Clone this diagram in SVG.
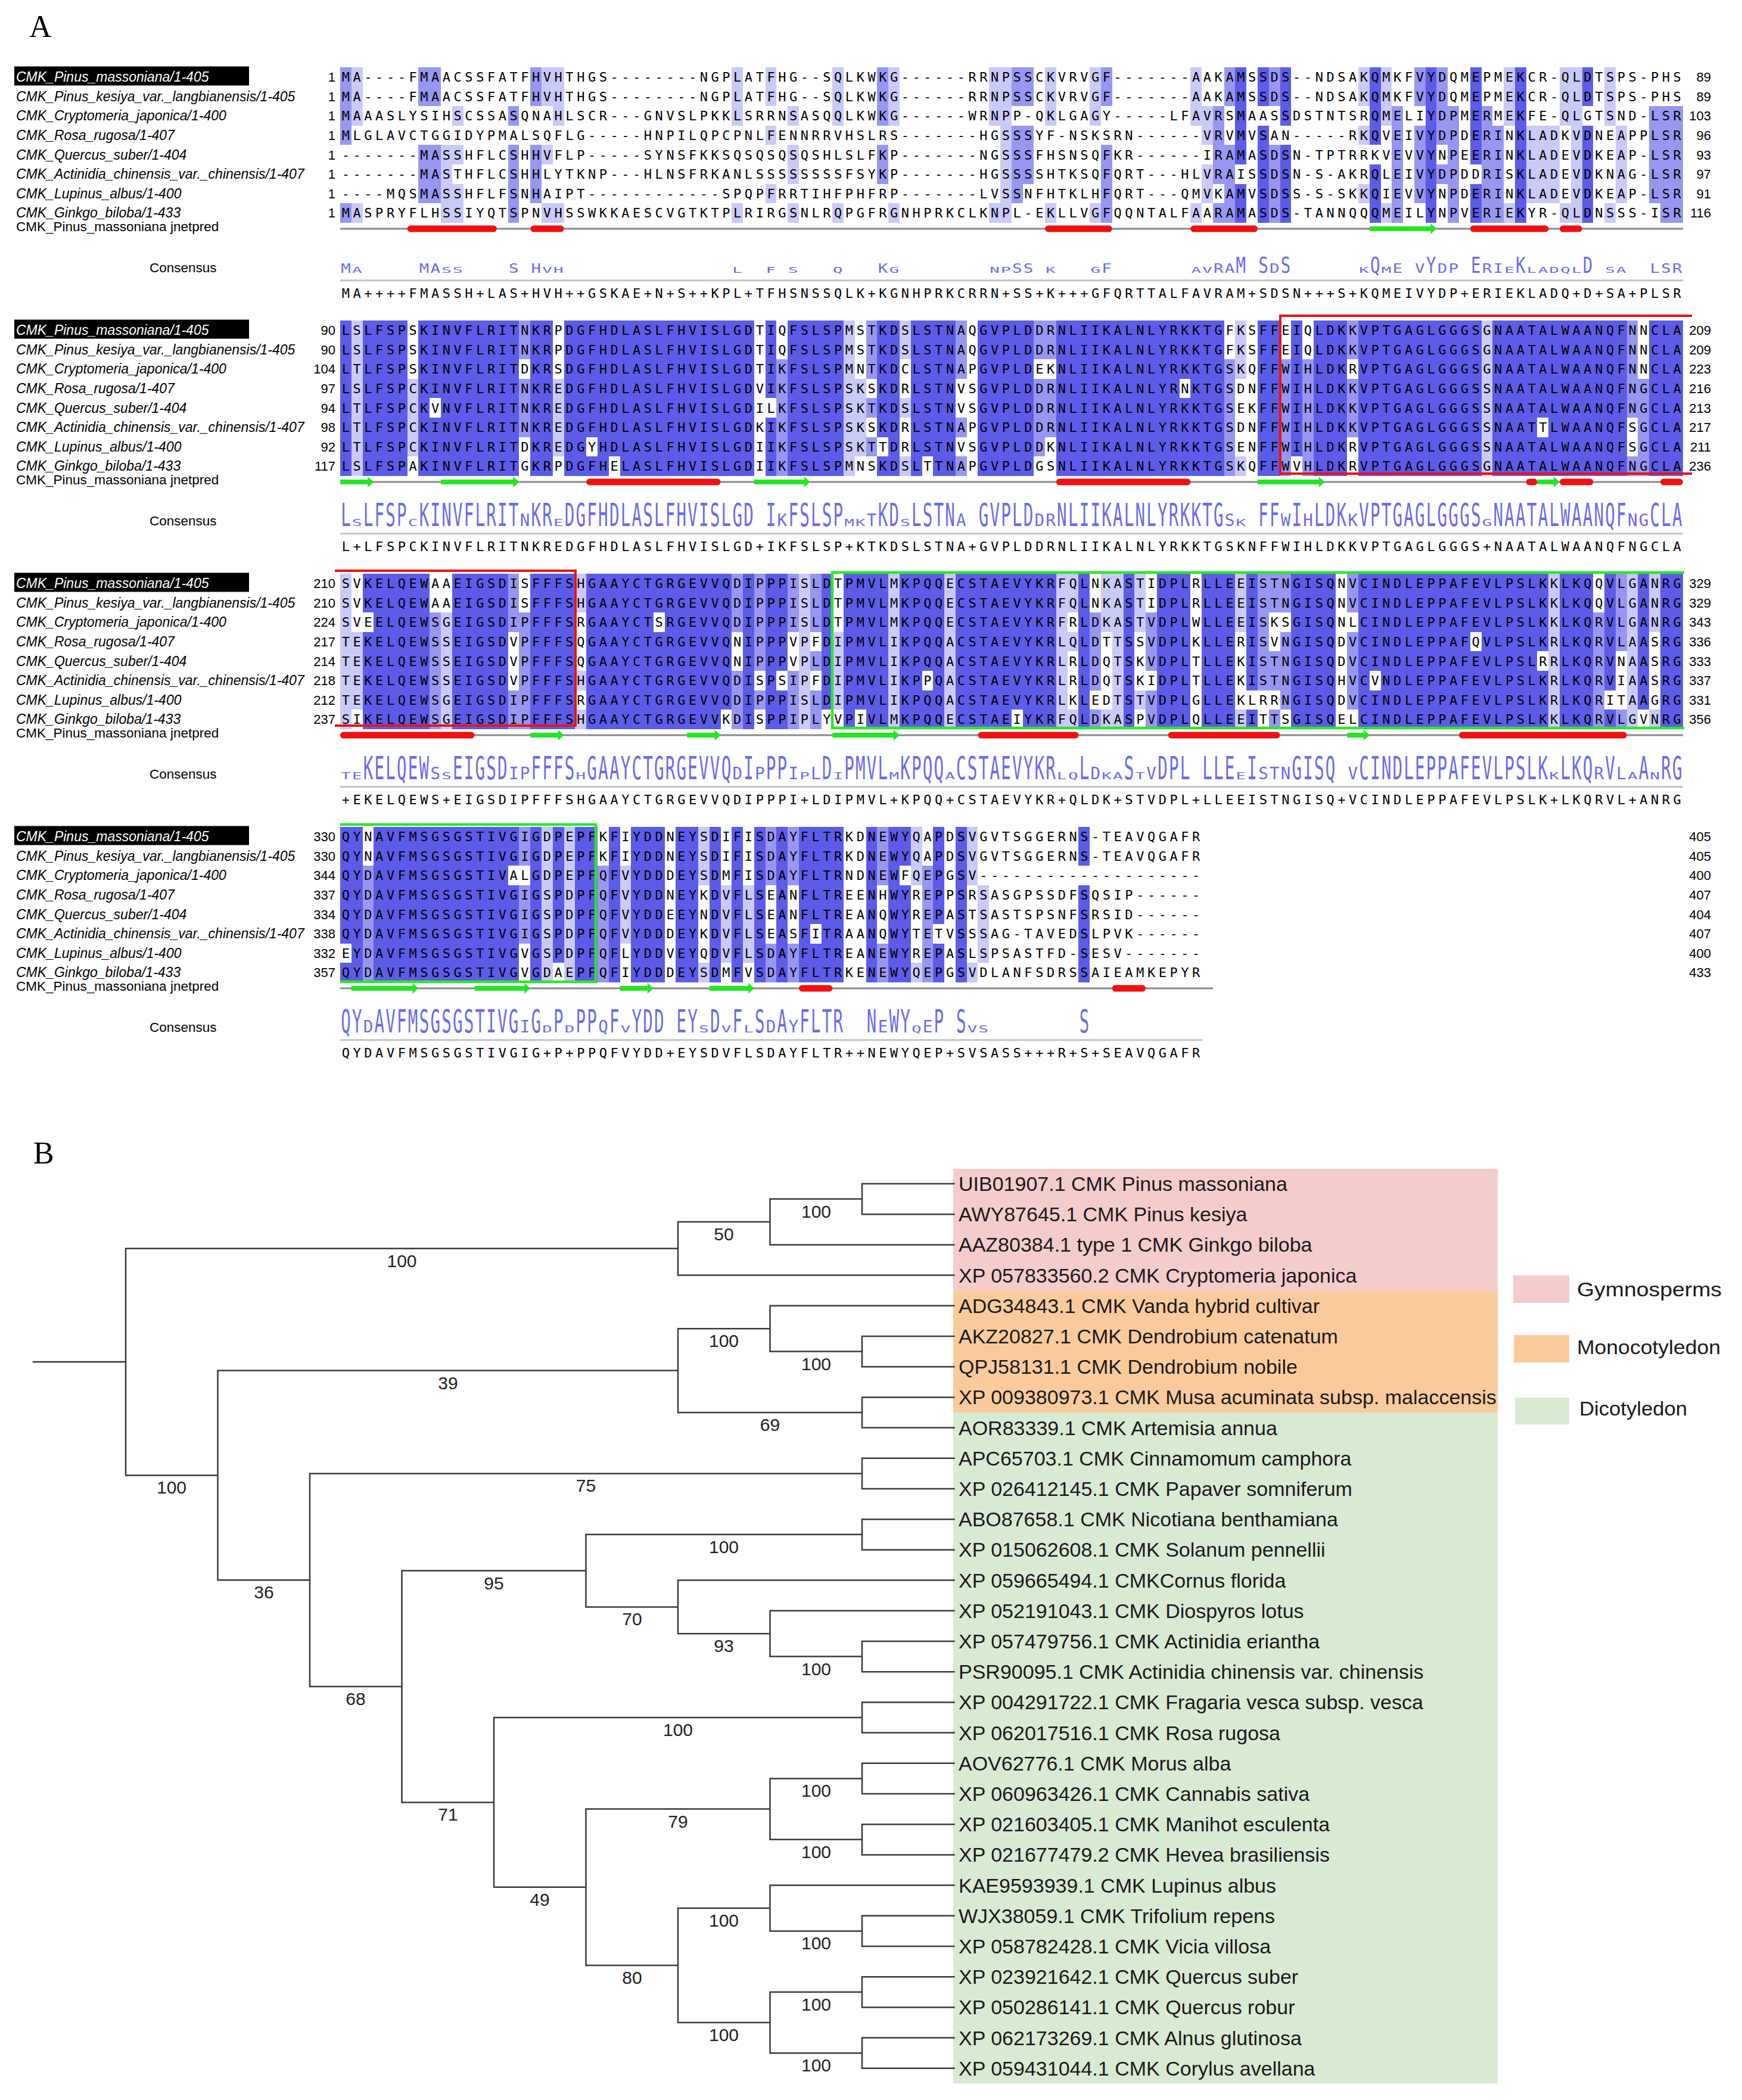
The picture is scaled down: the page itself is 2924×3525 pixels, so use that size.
<svg xmlns="http://www.w3.org/2000/svg" width="2924" height="3525" viewBox="0 0 2924 3525">
<style>
.seq{font-family:"DejaVu Sans Mono",monospace;font-size:22px;letter-spacing:5.535px;fill:#000}
.lg{font-family:"DejaVu Sans Mono",monospace;font-size:22px;letter-spacing:1.779px;fill:#6b6bea;white-space:pre}
.nm{font-family:"Liberation Sans",Arial,sans-serif;font-size:23px;font-style:italic;fill:#000}
.lb{font-family:"Liberation Sans",Arial,sans-serif;font-size:22.5px;fill:#000}
.nl{font-family:"Liberation Sans",Arial,sans-serif;font-size:22px;text-anchor:end;fill:#000}
.d{fill:#5c5ce8}.m{fill:#9797f2}.l{fill:#cacaf8}.w{fill:#fff}
.gl{stroke:#8a8a8a;stroke-width:3}
.cl{stroke:#c4c4c4;stroke-width:3}
.hx{fill:#f01010}
.st{fill:#22e622}
.rb{fill:none;stroke:#ee1111;stroke-width:4}
.gb{fill:none;stroke:#2be82b;stroke-width:4.5}
.br{fill:none;stroke:#3a3a3a;stroke-width:2.5;stroke-linecap:square}
.bs{font-family:"Liberation Sans",Arial,sans-serif;font-size:30px;text-anchor:middle;fill:#222}
.lf{font-family:"Liberation Sans",Arial,sans-serif;font-size:34px;fill:#1a1a1a}
.lgd{font-family:"Liberation Sans",Arial,sans-serif;font-size:33px;fill:#1a1a1a}
.pl{font-family:"Liberation Serif",serif;font-size:52px;fill:#000}
</style>
<defs>
<g id="labels">
<rect x="24" y="111.5" width="394" height="32" fill="#000"/>
<text class="nm" x="27" y="137.2" style="fill:#fff">CMK_Pinus_massoniana/1-405</text>
<text class="nm" x="27" y="169.8">CMK_Pinus_kesiya_var._langbianensis/1-405</text>
<text class="nm" x="27" y="202.4">CMK_Cryptomeria_japonica/1-400</text>
<text class="nm" x="27" y="235">CMK_Rosa_rugosa/1-407</text>
<text class="nm" x="27" y="267.6">CMK_Quercus_suber/1-404</text>
<text class="nm" x="27" y="300.2">CMK_Actinidia_chinensis_var._chinensis/1-407</text>
<text class="nm" x="27" y="332.8">CMK_Lupinus_albus/1-400</text>
<text class="nm" x="27" y="365.4">CMK_Ginkgo_biloba/1-433</text>
<text class="lb" x="27" y="388">CMK_Pinus_massoniana jnetpred</text>
<text class="lb" x="251" y="457">Consensus</text>
</g>
</defs>
<rect width="2924" height="3525" fill="#fff"/>
<text class="pl" x="49" y="62">A</text>

<g id="block1">
<g transform="translate(571,113) scale(18.78,32.6)" shape-rendering="crispEdges">
<path class="m" d="M0 0h1v4h-1zM0 7h1v1h-1zM7 0h2v2h-2zM7 4h2v3h-2zM15 2h1v1h-1zM15 4h1v4h-1zM17 0h1v2h-1zM17 4h1v3h-1zM48 0h1v3h-1zM48 4h1v2h-1zM60 0h2v2h-2zM60 3h2v3h-2zM60 6h1v1h-1zM68 0h1v2h-1zM68 4h1v4h-1zM78 2h1v4h-1zM78 7h1v1h-1zM79 0h1v2h-1zM79 4h1v4h-1zM83 0h1v2h-1zM83 4h1v4h-1zM94 2h1v6h-1zM96 0h1v2h-1zM96 3h1v4h-1zM98 0h1v4h-1zM98 5h1v1h-1zM99 2h1v6h-1zM102 2h1v1h-1zM102 3h2v5h-2zM117 2h3v5h-3zM118 7h2v1h-2z"/>
<path class="l" d="M1 0h1v3h-1zM1 7h1v1h-1zM9 4h1v4h-1zM10 2h1v1h-1zM10 4h1v1h-1zM10 6h1v2h-1zM18 0h2v2h-2zM19 2h1v1h-1zM18 4h1v1h-1zM18 7h2v1h-2zM35 0h1v3h-1zM35 7h1v1h-1zM38 0h1v2h-1zM38 3h1v1h-1zM38 6h1v1h-1zM40 2h1v1h-1zM40 4h1v2h-1zM40 7h1v1h-1zM44 0h1v3h-1zM44 7h1v1h-1zM49 0h1v3h-1zM49 7h1v1h-1zM58 0h1v3h-1zM58 7h1v1h-1zM59 0h1v8h-1zM63 0h1v3h-1zM63 7h1v1h-1zM67 0h1v3h-1zM67 7h1v1h-1zM76 0h1v3h-1zM76 7h1v1h-1zM77 2h1v2h-1zM77 5h1v2h-1zM91 0h1v2h-1zM91 3h1v1h-1zM91 6h1v1h-1zM93 0h1v3h-1zM93 7h1v1h-1zM104 0h1v3h-1zM104 7h1v1h-1zM106 3h3v4h-3zM109 0h2v3h-2zM110 3h1v4h-1zM109 7h2v1h-2zM113 0h1v3h-1zM113 7h1v1h-1zM114 3h1v4h-1z"/>
<path class="d" d="M80 0h1v5h-1zM80 6h1v2h-1zM82 0h1v2h-1zM82 3h1v5h-1zM84 0h1v3h-1zM84 4h1v4h-1zM92 0h1v4h-1zM92 5h1v3h-1zM97 0h1v8h-1zM101 0h1v5h-1zM101 6h1v2h-1zM105 0h1v8h-1zM111 0h1v2h-1zM111 3h1v5h-1z"/>
</g>
<use href="#labels"/>
<text class="nl" x="563" y="137.2">1</text><text class="nl" x="563" y="169.8">1</text><text class="nl" x="563" y="202.4">1</text><text class="nl" x="563" y="235">1</text><text class="nl" x="563" y="267.6">1</text><text class="nl" x="563" y="300.2">1</text><text class="nl" x="563" y="332.8">1</text><text class="nl" x="563" y="365.4">1</text>
<text class="nl" x="2872" y="137.2">89</text><text class="nl" x="2872" y="169.8">89</text><text class="nl" x="2872" y="202.4">103</text><text class="nl" x="2872" y="235">96</text><text class="nl" x="2872" y="267.6">93</text><text class="nl" x="2872" y="300.2">97</text><text class="nl" x="2872" y="332.8">91</text><text class="nl" x="2872" y="365.4">116</text>
<text class="seq" x="573.77" y="137.2">MA----FMAACSSFATFHVHTHGS--------NGPLATFHG--SQLKWKG------RRNPSSCKVRVGF-------AAKAMSSDS--NDSAKQMKFVYDQMEPMEKCR-QLDTSPS-PHS</text>
<text class="seq" x="573.77" y="169.8">MA----FMAACSSFATFHVHTHGS--------NGPLATFHG--SQLKWKG------RRNPSSCKVRVGF-------AAKAMSSDS--NDSAKQMKFVYDQMEPMEKCR-QLDTSPS-PHS</text>
<text class="seq" x="573.77" y="202.4">MAAASLYSIHSCSSASQNAHLSCR---GNVSLPKKLSRRNSASQQLKWKG------WRNPP-QKLGAGY-----LFAVRSMAASSDSTNTSRQMELIYDPMERMEKFE-QLGTSND-LSR</text>
<text class="seq" x="573.77" y="235">MLGLAVCTGGIDYPMALSQFLG-----HNPILQPCPNLFENNRRVHSLRS-------HGSSSYF-NSKSRN------VRVMVSAN-----RKQVEIVYDPDERINKLADKVDNEAPPLSR</text>
<text class="seq" x="573.77" y="267.6">-------MASSHFLCSHHVFLP-----SYNSFKKSQSQSQSQSHLSLFKP-------NGSSSFHSNSQFKR------IRAMASDSN-TPTRRKVEVVYNPEERINKLADEVDKEAP-LSR</text>
<text class="seq" x="573.77" y="300.2">-------MASTHFLCSHHLYTKNP---HLNSFRKANLSSSSSSSSFSYKP-------HGSSSSHTKSQFQRT---HLVRAISSDSN-S-AKRQLEIVYDPDDRISKLADEVDKNAG-LSR</text>
<text class="seq" x="573.77" y="332.8">----MQSMASSHFLFSNHAIPT------------SPQPFRRTIHFPHFRP-------LVSSNFHTKLHFQRT---QMVKAMVSDSS-S-SKKQIEVVYNPDERINKLADEVDKEAP-LSR</text>
<text class="seq" x="573.77" y="365.4">MASPRYFLHSSIYQTSPNVHSSWKKAESCVGTKTPLRIRGSNLRQPGFRGNHPRKCLKNPL-EKLLVGFQQNTALFAARAMASDS-TANNQQQMEILYNPVERIEKYR-QLDNSSS-ISR</text>
<line class="gl" x1="571" y1="384" x2="2825" y2="384"/>
<rect class="hx" x="683.7" y="378.5" width="150.2" height="11" rx="5.5"/>
<rect class="hx" x="890.3" y="378.5" width="56.3" height="11" rx="5.5"/>
<rect class="hx" x="1754.1" y="378.5" width="112.7" height="11" rx="5.5"/>
<rect class="hx" x="1998.3" y="378.5" width="112.7" height="11" rx="5.5"/>
<path class="st" d="M2298.8 380H2401.5V375L2411.5 384L2401.5 393V388H2298.8Z"/>
<rect class="hx" x="2467.8" y="378.5" width="131.5" height="11" rx="5.5"/>
<rect class="hx" x="2618" y="378.5" width="37.6" height="11" rx="5.5"/>
<g transform="translate(572.2,458) scale(1.25,1.7)"><text class="lg" x="1201.92" xml:space="preserve">M S</text><text class="lg" x="1262.02">S</text><text class="lg" x="1382.21">Q</text><text class="lg" x="1457.33">Y</text><text class="lg" x="1517.42">E</text><text class="lg" x="1577.52">K</text><text class="lg" x="1667.66">D</text></g>
<g transform="translate(572.2,458) scale(1.25,1)"><text class="lg" x="0">M</text><text class="lg" x="105.17">MA</text><text class="lg" x="225.36" xml:space="preserve">S H</text><text class="lg" x="721.15">K</text><text class="lg" x="901.44">SS</text><text class="lg" x="1021.63">F</text><text class="lg" x="1171.87">RA</text><text class="lg" x="1246.99">D</text><text class="lg" x="1412.26" xml:space="preserve">E V</text><text class="lg" x="1472.35">DP</text><text class="lg" x="1532.45">RI</text><text class="lg" x="1757.81">LSR</text></g>
<g transform="translate(572.2,458) scale(1.25,0.6)"><text class="lg" x="15.02">A</text><text class="lg" x="135.22">SS</text><text class="lg" x="270.43" xml:space="preserve">VH               L  F S   Q</text><text class="lg" x="736.18" xml:space="preserve">G        NP</text><text class="lg" x="946.51" xml:space="preserve">K   G</text><text class="lg" x="1141.82">AV</text><text class="lg" x="1367.18">K</text><text class="lg" x="1397.23">M</text><text class="lg" x="1562.5">E</text><text class="lg" x="1592.54">LADQL</text><text class="lg" x="1697.71">SA</text></g>
<line class="cl" x1="571" y1="470.7" x2="2825" y2="470.7"/>
<text class="seq" x="573.77" y="499.6">MA++++FMASSH+LAS+HVH++GSKAE+N+S++KPL+TFHSNSSQLK+KGNHPRKCRRN+SS+K+++GFQRTTALFAVRAM+SDSN+++S+KQMEIVYDP+ERIEKLADQ+D+SA+PLSR</text>
</g>

<g id="block2" transform="translate(0,425)">
<g transform="translate(571,113) scale(18.78,32.6)" shape-rendering="crispEdges">
<path class="d" d="M0 0h120v8h-120z"/>
<path class="w" d="M6 0h1v3h-1zM6 7h1v1h-1zM8 4h1v1h-1zM16 2h1v1h-1zM16 6h1v2h-1zM19 0h1v3h-1zM19 7h1v1h-1zM22 6h1v1h-1zM24 7h1v1h-1zM37 0h1v8h-1zM38 4h1v1h-1zM39 0h1v2h-1zM46 0h1v3h-1zM46 7h1v1h-1zM47 3h1v1h-1zM47 5h1v1h-1zM47 7h1v1h-1zM48 6h1v1h-1zM50 2h1v2h-1zM50 5h1v2h-1zM52 7h1v1h-1zM55 3h1v2h-1zM55 6h1v1h-1zM56 0h1v8h-1zM62 2h2v1h-2zM63 6h1v2h-1zM62 7h1v1h-1zM75 3h1v1h-1zM79 0h1v2h-1zM80 3h1v4h-1zM81 0h1v8h-1zM84 0h1v2h-1zM85 7h1v1h-1zM86 0h1v2h-1zM90 2h1v1h-1zM90 6h1v2h-1zM107 5h1v1h-1zM115 5h1v2h-1zM116 0h1v3h-1z"/>
<path class="m" d="M16 0h1v2h-1zM16 3h1v3h-1zM39 2h1v6h-1zM47 0h1v3h-1zM47 4h1v1h-1zM47 6h1v1h-1zM55 0h1v3h-1zM55 5h1v1h-1zM55 7h1v1h-1zM62 0h2v2h-2zM62 3h2v3h-2zM62 6h1v1h-1zM79 2h1v6h-1zM84 2h1v6h-1zM86 2h1v6h-1zM90 0h1v2h-1zM90 3h1v3h-1zM115 0h1v5h-1zM115 7h1v1h-1zM116 3h1v5h-1z"/>
<path class="l" d="M1 0h1v8h-1zM6 3h1v4h-1zM19 3h1v4h-1zM45 0h1v8h-1zM46 3h1v4h-1zM50 0h1v2h-1zM50 4h1v1h-1zM50 7h1v1h-1zM80 0h1v3h-1zM80 7h1v1h-1zM102 0h1v8h-1z"/>
</g>
<use href="#labels"/>
<text class="nl" x="563" y="137.2">90</text><text class="nl" x="563" y="169.8">90</text><text class="nl" x="563" y="202.4">104</text><text class="nl" x="563" y="235">97</text><text class="nl" x="563" y="267.6">94</text><text class="nl" x="563" y="300.2">98</text><text class="nl" x="563" y="332.8">92</text><text class="nl" x="563" y="365.4">117</text>
<text class="nl" x="2872" y="137.2">209</text><text class="nl" x="2872" y="169.8">209</text><text class="nl" x="2872" y="202.4">223</text><text class="nl" x="2872" y="235">216</text><text class="nl" x="2872" y="267.6">213</text><text class="nl" x="2872" y="300.2">217</text><text class="nl" x="2872" y="332.8">211</text><text class="nl" x="2872" y="365.4">236</text>
<text class="seq" x="573.77" y="137.2">LSLFSPSKINVFLRITNKRPDGFHDLASLFHVISLGDTIQFSLSPMSTKDSLSTNAQGVPLDDRNLIIKALNLYRKKTGFKSFFEIQLDKKVPTGAGLGGGSGNAATALWAANQFNNCLA</text>
<text class="seq" x="573.77" y="169.8">LSLFSPSKINVFLRITNKRPDGFHDLASLFHVISLGDTIQFSLSPMSTKDSLSTNAQGVPLDDRNLIIKALNLYRKKTGFKSFFEIQLDKKVPTGAGLGGGSGNAATALWAANQFNNCLA</text>
<text class="seq" x="573.77" y="202.4">LTLFSPSKINVFLRITDKRSDGFHDLASLFHVISLGDTIKFSLSPMNTKDCLSTNAPGVPLDEKNLIIKALNLYRKKTGSKQFFWIHLDKRVPTGAGLGGGSGNAATALWAANQFNNCLA</text>
<text class="seq" x="573.77" y="235">LSLFSPCKINVFLRITNKREDGFHDLASLFHVISLGDVIKFSLSPSKSKDRLSTNVSGVPLDDRNLIIKALNLYRNKTGSDNFFWIHLDKKVPTGAGLGGGSSNAATALWAANQFNGCLA</text>
<text class="seq" x="573.77" y="267.6">LTLFSPCKVNVFLRITNKREDGFHDLASLFHVISLGDILKFSLSPSKTKDSLSTNVSGVPLDDRNLIIKALNLYRKKTGSEKFFWIHLDKKVPTGAGLGGGSSNAATALWAANQFNGCLA</text>
<text class="seq" x="573.77" y="300.2">LTLFSPCKINVFLRITNKREDGFHDLASLFHVISLGDKIKFSLSPSKSKDRLSTNAPGVPLDDRNLIIKALNLYRKKTGSDNFFWIHLDKKVPTGAGLGGGSSNAATTLWAANQFSGCLA</text>
<text class="seq" x="573.77" y="332.8">LTLFSPCKINVFLRITDKREDGYHDLASLFHVISLGDIIKFSLSPSKTTDRLSTNVSGVPLDDKNLIIKALNLYRKKTGSENFFWIHLDKRVPTGAGLGGGSSNAATALWAANQFSGCLA</text>
<text class="seq" x="573.77" y="365.4">LSLFSPAKINVFLRITGKRPDGFHELASLFHVISLGDIIKFSLSPMNSKDSLTTNAPGVPLDGSNLIIKALNLYRKKTGSKQFFWVHLDKRVPTGAGLGGGSGNAATALWAANQFNGCLA</text>
<line class="gl" x1="571" y1="384" x2="2825" y2="384"/>
<path class="st" d="M571 380H617.3V375L627.3 384L617.3 393V388H571Z"/>
<path class="st" d="M740 380H861.5V375L871.5 384L861.5 393V388H740Z"/>
<rect class="hx" x="984.2" y="378.5" width="225.3" height="11" rx="5.5"/>
<path class="st" d="M1265.9 380H1349.8V375L1359.8 384L1349.8 393V388H1265.9Z"/>
<rect class="hx" x="1772.9" y="378.5" width="225.4" height="11" rx="5.5"/>
<path class="st" d="M2111 380H2213.7V375L2223.7 384L2213.7 393V388H2111Z"/>
<rect class="hx" x="2561.7" y="378.5" width="18.8" height="11" rx="5.5"/>
<path class="st" d="M2580.5 380H2608V375L2618 384L2608 393V388H2580.5Z"/>
<rect class="hx" x="2618" y="378.5" width="56.4" height="11" rx="5.5"/>
<rect class="hx" x="2787" y="378.5" width="37.6" height="11" rx="5.5"/>
<g transform="translate(572.2,458) scale(1.25,2.4)"><text class="lg" x="0">L</text><text class="lg" x="30.05">LFSP</text><text class="lg" x="105.17">KINVFLRIT</text><text class="lg" x="255.41">KR</text><text class="lg" x="300.48" xml:space="preserve">DGFHDLASLFHVISLGD I</text><text class="lg" x="600.96">FSLSP</text><text class="lg" x="721.15">KD</text><text class="lg" x="766.22">LSTN</text><text class="lg" x="856.37">GVPLD</text><text class="lg" x="961.54">NLIIKALNLYRKKTG</text><text class="lg" x="1231.97">FF</text><text class="lg" x="1277.04">I</text><text class="lg" x="1307.09">LDK</text><text class="lg" x="1367.18">VPTGAGLGGGS</text><text class="lg" x="1547.47">NAATALWAANQF</text><text class="lg" x="1757.81">CLA</text></g>
<g transform="translate(572.2,458) scale(1.25,1.3)"><text class="lg" x="240.38">N</text><text class="lg" x="585.94">K</text><text class="lg" x="706.13">T</text><text class="lg" x="826.32">A</text><text class="lg" x="931.49">DR</text><text class="lg" x="1186.9">S</text><text class="lg" x="1262.02">W</text><text class="lg" x="1292.06">H</text><text class="lg" x="1352.16">K</text><text class="lg" x="1727.76">NG</text></g>
<g transform="translate(572.2,458) scale(1.25,0.7)"><text class="lg" x="15.02">S</text><text class="lg" x="90.14">C</text><text class="lg" x="285.46">E</text><text class="lg" x="676.08">MK</text><text class="lg" x="751.2">S</text><text class="lg" x="1201.92">K</text><text class="lg" x="1532.45">G</text></g>
<line class="cl" x1="571" y1="470.7" x2="2825" y2="470.7"/>
<text class="seq" x="573.77" y="499.6">L+LFSPCKINVFLRITNKREDGFHDLASLFHVISLGD+IKFSLSP+KTKDSLSTNA+GVPLDDRNLIIKALNLYRKKTGSKNFFWIHLDKKVPTGAGLGGGS+NAATALWAANQFNGCLA</text>
</g>

<g id="block3" transform="translate(0,850)">
<g transform="translate(571,113) scale(18.78,32.6)" shape-rendering="crispEdges">
<path class="d" d="M0 0h120v8h-120z"/>
<path class="w" d="M1 0h1v3h-1zM1 7h1v1h-1zM2 2h1v1h-1zM8 0h2v2h-2zM15 3h1v3h-1zM16 0h1v2h-1zM21 2h1v3h-1zM21 6h1v1h-1zM28 2h1v1h-1zM34 7h1v1h-1zM35 3h1v2h-1zM37 5h1v1h-1zM37 7h1v1h-1zM39 5h1v1h-1zM40 3h1v2h-1zM42 3h1v1h-1zM42 5h1v1h-1zM43 7h1v1h-1zM44 0h1v3h-1zM44 7h1v1h-1zM46 7h1v1h-1zM52 5h1v1h-1zM60 7h1v1h-1zM65 2h1v1h-1zM65 4h1v3h-1zM67 0h1v2h-1zM67 6h1v1h-1zM68 3h1v4h-1zM71 3h1v3h-1zM71 7h1v1h-1zM72 0h1v2h-1zM72 5h1v1h-1zM76 0h1v8h-1zM80 3h1v4h-1zM81 6h1v1h-1zM82 6h1v2h-1zM83 2h1v2h-1zM83 6h1v1h-1zM84 2h1v1h-1zM84 7h1v1h-1zM89 0h1v8h-1zM90 2h1v1h-1zM90 7h1v1h-1zM92 5h1v1h-1zM101 3h1v1h-1zM107 4h1v1h-1zM112 0h1v2h-1zM113 6h1v1h-1zM114 4h1v3h-1zM116 7h1v1h-1zM117 3h1v4h-1z"/>
<path class="m" d="M8 2h1v6h-1zM15 0h1v3h-1zM15 6h1v2h-1zM16 2h1v6h-1zM35 0h1v3h-1zM35 5h1v3h-1zM37 0h1v5h-1zM37 6h1v1h-1zM40 0h1v3h-1zM40 5h1v3h-1zM42 0h1v3h-1zM42 4h1v1h-1zM42 6h1v2h-1zM67 2h1v4h-1zM67 7h1v1h-1zM72 2h1v3h-1zM72 6h1v2h-1zM82 0h1v6h-1zM83 0h1v2h-1zM83 4h1v2h-1zM83 7h1v1h-1zM84 0h1v2h-1zM84 3h1v4h-1zM90 0h1v2h-1zM90 3h1v4h-1zM112 2h1v6h-1zM114 0h1v4h-1zM114 7h1v1h-1z"/>
<path class="l" d="M0 0h1v8h-1zM1 3h1v4h-1zM9 2h1v6h-1zM21 0h1v2h-1zM21 5h1v1h-1zM21 7h1v1h-1zM41 0h1v8h-1zM44 3h1v4h-1zM49 0h1v8h-1zM54 0h1v8h-1zM64 0h1v8h-1zM65 0h1v2h-1zM65 3h1v1h-1zM65 7h1v1h-1zM68 0h1v3h-1zM68 7h1v1h-1zM69 0h1v8h-1zM71 0h1v3h-1zM71 6h1v1h-1zM80 0h1v3h-1zM80 7h1v1h-1zM108 0h1v8h-1zM115 0h1v8h-1zM117 0h1v3h-1zM117 7h1v1h-1z"/>
</g>
<use href="#labels"/>
<text class="nl" x="563" y="137.2">210</text><text class="nl" x="563" y="169.8">210</text><text class="nl" x="563" y="202.4">224</text><text class="nl" x="563" y="235">217</text><text class="nl" x="563" y="267.6">214</text><text class="nl" x="563" y="300.2">218</text><text class="nl" x="563" y="332.8">212</text><text class="nl" x="563" y="365.4">237</text>
<text class="nl" x="2872" y="137.2">329</text><text class="nl" x="2872" y="169.8">329</text><text class="nl" x="2872" y="202.4">343</text><text class="nl" x="2872" y="235">336</text><text class="nl" x="2872" y="267.6">333</text><text class="nl" x="2872" y="300.2">337</text><text class="nl" x="2872" y="332.8">331</text><text class="nl" x="2872" y="365.4">356</text>
<text class="seq" x="573.77" y="137.2">SVKELQEWAAEIGSDISFFFSHGAAYCTGRGEVVQDIPPPISLDTPMVLMKPQQECSTAEVYKRFQLNKASTIDPLRLLEEISTNGISQNVCINDLEPPAFEVLPSLKKLKQQVLGANRG</text>
<text class="seq" x="573.77" y="169.8">SVKELQEWAAEIGSDISFFFSHGAAYCTGRGEVVQDIPPPISLDTPMVLMKPQQECSTAEVYKRFQLNKASTIDPLRLLEEISTNGISQNVCINDLEPPAFEVLPSLKKLKQQVLGANRG</text>
<text class="seq" x="573.77" y="202.4">SVEELQEWSGEIGSDIPFFFSRGAAYCTSRGEVVQDIPPPISLDTPMVLMKPQQECSTAEVYKRFRLDKASTVDPLWLLEEISKSGISQNLCINDLEPPAFEVLPSLKKLKQRVLGANRG</text>
<text class="seq" x="573.77" y="235">TEKELQEWSSEIGSDVPFFFSQGAAYCTGRGEVVQNIPPPVPFDIPMVLIKPQQACSTAEVYKRLQLDTTSSVDPLKLLERISVNGISQDVCINDLEPPAFQVLPSLKRLKQRVLAASRG</text>
<text class="seq" x="573.77" y="267.6">TEKELQEWSSEIGSDVPFFFSQGAAYCTGRGEVVQNIPPPVPLDIPMVLIKPQQACSTAEVYKRLRLDQTSKVDPLTLLEKISTNGISQDVCINDLEPPAFEVLPSLRRLKQRVNAASRG</text>
<text class="seq" x="573.77" y="300.2">TEKELQEWSSEIGSDVPFFFSHGAAYCTGRGEVVQDISPSIPFDIPMVLIKPPQACSTAEVYKRLRLDQTSKIDPLTLLEKISTNGISQHVCVNDLEPPAFEVLPSLKRLKQRVIAASRG</text>
<text class="seq" x="573.77" y="332.8">TEKELQEWSGEIGSDIPFFFSRGAAYCTGRGEVVQDIPPPISLDIPMVLIKPQQACSTAEVYKRLKLEDTSTVDPLGLLEKLRRNGISQDVCINDLEPPAFEVLPSLKRLKQRITAAGRG</text>
<text class="seq" x="573.77" y="365.4">SIKELQEWSGEIGSDIPFFFSHGAAYCTGRGEVVKDISPPIPLYVPIVLMKPQQECSTAEIYKRFQLDKASPVDPLQLLEEITTSGISQELCINDLEPPAFEVLPSLKKLKQRVLGVNRG</text>
<line class="gl" x1="571" y1="384" x2="2825" y2="384"/>
<rect class="hx" x="571" y="378.5" width="225.4" height="11" rx="5.5"/>
<path class="st" d="M890.3 380H936.6V375L946.6 384L936.6 393V388H890.3Z"/>
<path class="st" d="M1153.2 380H1199.5V375L1209.5 384L1199.5 393V388H1153.2Z"/>
<path class="st" d="M1397.3 380H1499.9V375L1509.9 384L1499.9 393V388H1397.3Z"/>
<rect class="hx" x="1641.5" y="378.5" width="169" height="11" rx="5.5"/>
<rect class="hx" x="1960.7" y="378.5" width="187.8" height="11" rx="5.5"/>
<path class="st" d="M2261.2 380H2288.8V375L2298.8 384L2288.8 393V388H2261.2Z"/>
<rect class="hx" x="2449" y="378.5" width="281.7" height="11" rx="5.5"/>
<g transform="translate(572.2,458) scale(1.25,2.4)"><text class="lg" x="30.05">KELQEW</text><text class="lg" x="150.24">EIGSD</text><text class="lg" x="255.41">FFFS</text><text class="lg" x="330.53">GAAYCTGRGEVVQ</text><text class="lg" x="540.86">I</text><text class="lg" x="570.91">PP</text><text class="lg" x="646.03">D</text><text class="lg" x="676.08">PMVL</text><text class="lg" x="751.2">KPQQ</text><text class="lg" x="826.32">CSTAEVYKR</text><text class="lg" x="991.58">L</text><text class="lg" x="1051.68">S</text><text class="lg" x="1096.75" xml:space="preserve">DPL LLE</text><text class="lg" x="1216.94">I</text><text class="lg" x="1277.04">GISQ</text><text class="lg" x="1367.18">CINDLEPPAFEVLPSLK</text><text class="lg" x="1637.62">LKQ</text><text class="lg" x="1697.71">V</text><text class="lg" x="1742.78">A</text><text class="lg" x="1772.83">RG</text></g>
<g transform="translate(572.2,458) scale(1.25,1.3)"><text class="lg" x="120.19">S</text><text class="lg" x="225.36">IP</text><text class="lg" x="525.84">D</text><text class="lg" x="555.89">P</text><text class="lg" x="600.96">I</text><text class="lg" x="631.01">L</text><text class="lg" x="1006.61">D</text><text class="lg" x="1081.73">V</text><text class="lg" x="1231.97">STN</text><text class="lg" x="1352.16">V</text><text class="lg" x="1682.69">R</text><text class="lg" x="1712.74">L</text></g>
<g transform="translate(572.2,458) scale(1.25,0.7)"><text class="lg" x="0">TE</text><text class="lg" x="135.22">S</text><text class="lg" x="315.5">H</text><text class="lg" x="615.98">P</text><text class="lg" x="661.06">I</text><text class="lg" x="736.18">M</text><text class="lg" x="811.3">A</text><text class="lg" x="961.54">LQ</text><text class="lg" x="1021.63">KA</text><text class="lg" x="1066.7">T</text><text class="lg" x="1201.92">E</text><text class="lg" x="1622.59">K</text><text class="lg" x="1727.76">A</text><text class="lg" x="1757.81">N</text></g>
<line class="cl" x1="571" y1="470.7" x2="2825" y2="470.7"/>
<text class="seq" x="573.77" y="499.6">+EKELQEWS+EIGSDIPFFFSHGAAYCTGRGEVVQDIPPPI+LDIPMVL+KPQQ+CSTAEVYKR+QLDK+STVDPL+LLEEISTNGISQ+VCINDLEPPAFEVLPSLK+LKQRVL+ANRG</text>
</g>

<g id="block4" transform="translate(0,1275)">
<g transform="translate(571,113) scale(18.78,32.6)" shape-rendering="crispEdges">
<path class="d" d="M0 0h56v8h-56zM66 0h1v2h-1zM66 3h1v5h-1z"/>
<path class="w" d="M0 6h1v1h-1zM2 0h1v2h-1zM15 2h2v1h-2zM16 6h1v2h-1zM19 7h1v1h-1zM23 0h1v2h-1zM25 0h1v2h-1zM25 6h1v2h-1zM29 0h1v8h-1zM32 3h1v4h-1zM34 0h1v3h-1zM34 7h1v1h-1zM36 0h1v3h-1zM36 7h1v1h-1zM38 3h1v3h-1zM40 3h1v3h-1zM42 5h1v1h-1zM45 0h2v8h-2zM48 3h1v3h-1zM50 2h1v1h-1zM51 3h1v4h-1zM52 0h1v2h-1zM53 5h1v1h-1zM54 0h1v8h-1z"/>
<path class="m" d="M2 2h1v6h-1zM16 0h1v2h-1zM16 3h1v3h-1zM23 2h1v6h-1zM38 0h1v3h-1zM38 6h1v2h-1zM40 0h1v3h-1zM40 6h1v2h-1zM48 0h1v3h-1zM48 6h1v2h-1zM52 2h1v6h-1z"/>
<path class="l" d="M18 0h1v8h-1zM20 0h1v8h-1zM25 2h1v4h-1zM32 0h1v3h-1zM32 7h1v1h-1zM34 3h1v4h-1zM36 3h1v4h-1zM51 0h1v3h-1zM51 7h1v1h-1zM56 0h1v3h-1zM56 7h1v1h-1zM57 3h1v4h-1z"/>
</g>
<use href="#labels"/>
<text class="nl" x="563" y="137.2">330</text><text class="nl" x="563" y="169.8">330</text><text class="nl" x="563" y="202.4">344</text><text class="nl" x="563" y="235">337</text><text class="nl" x="563" y="267.6">334</text><text class="nl" x="563" y="300.2">338</text><text class="nl" x="563" y="332.8">332</text><text class="nl" x="563" y="365.4">357</text>
<text class="nl" x="2872" y="137.2">405</text><text class="nl" x="2872" y="169.8">405</text><text class="nl" x="2872" y="202.4">400</text><text class="nl" x="2872" y="235">407</text><text class="nl" x="2872" y="267.6">404</text><text class="nl" x="2872" y="300.2">407</text><text class="nl" x="2872" y="332.8">400</text><text class="nl" x="2872" y="365.4">433</text>
<text class="seq" x="573.77" y="137.2">QYNAVFMSGSGSTIVGIGDPEPFKFIYDDNEYSDIFISDAYFLTRKDNEWYQAPDSVGVTSGGERNS-TEAVQGAFR</text>
<text class="seq" x="573.77" y="169.8">QYNAVFMSGSGSTIVGIGDPEPFKFIYDDNEYSDIFISDAYFLTRKDNEWYQAPDSVGVTSGGERNS-TEAVQGAFR</text>
<text class="seq" x="573.77" y="202.4">QYDAVFMSGSGSTIVALGDPEPFQFVYDDDEYSDMFISDAYFLTRNDNEWFQEPGSV--------------------</text>
<text class="seq" x="573.77" y="235">QYDAVFMSGSGSTIVGIGSPDPFQFVYDDNEYKDVFLSEANFLTREENHWYREPPSRSASGPSSDFSQSIP------</text>
<text class="seq" x="573.77" y="267.6">QYDAVFMSGSGSTIVGIGSPDPFQFVYDDEEYNDVFLSEANFLTREANQWYREPASTSASTSPSNFSRSID------</text>
<text class="seq" x="573.77" y="300.2">QYDAVFMSGSGSTIVGIGSPDPFQFVYDDDEYKDVFLSEASFITRAANQWYTETVSSSAG-TAVEDSLPVK------</text>
<text class="seq" x="573.77" y="332.8">EYDAVFMSGSGSTIVGVGSPDPFQFLYDDVEYQDVFLSDAYFLTREANEWYREPASLSPSASTFD-SESV-------</text>
<text class="seq" x="573.77" y="365.4">QYDAVFMSGSGSTIVGVGDAEPFQFIYDDDEYSDMFVSDAYFLTRKENEWYQEPGSVDLANFSDRSSAIEAMKEPYR</text>
<line class="gl" x1="571" y1="384" x2="2036" y2="384"/>
<path class="st" d="M589.8 380H692.5V375L702.5 384L692.5 393V388H589.8Z"/>
<path class="st" d="M796.4 380H880.3V375L890.3 384L880.3 393V388H796.4Z"/>
<path class="st" d="M1040.5 380H1086.8V375L1096.8 384L1086.8 393V388H1040.5Z"/>
<path class="st" d="M1190.7 380H1255.9V375L1265.9 384L1255.9 393V388H1190.7Z"/>
<rect class="hx" x="1341" y="378.5" width="56.3" height="11" rx="5.5"/>
<rect class="hx" x="1866.8" y="378.5" width="56.3" height="11" rx="5.5"/>
<g transform="translate(572.2,458) scale(1.25,2.4)"><text class="lg" x="0">QY</text><text class="lg" x="45.07">AVFMSGSGSTIVG</text><text class="lg" x="255.41">G</text><text class="lg" x="285.46">P</text><text class="lg" x="315.5">PP</text><text class="lg" x="360.58">F</text><text class="lg" x="390.62" xml:space="preserve">YDD EY</text><text class="lg" x="495.79">D</text><text class="lg" x="525.84">F</text><text class="lg" x="555.89">S</text><text class="lg" x="585.94">A</text><text class="lg" x="615.98" xml:space="preserve">FLTR  N</text><text class="lg" x="736.18">WY</text><text class="lg" x="796.27" xml:space="preserve">P S</text><text class="lg" x="991.58">S</text></g>
<g transform="translate(572.2,458) scale(1.25,1.3)"><text class="lg" x="30.05">D</text><text class="lg" x="240.38">I</text><text class="lg" x="345.55">Q</text><text class="lg" x="570.91">D</text><text class="lg" x="600.96">Y</text><text class="lg" x="721.15">E</text><text class="lg" x="781.25">E</text></g>
<g transform="translate(572.2,458) scale(1.25,0.7)"><text class="lg" x="270.43">D</text><text class="lg" x="300.48">D</text><text class="lg" x="375.6">V</text><text class="lg" x="480.77">S</text><text class="lg" x="510.82">V</text><text class="lg" x="540.86">L</text><text class="lg" x="766.22">Q</text><text class="lg" x="841.34">VS</text></g>
<line class="cl" x1="571" y1="470.7" x2="2018" y2="470.7"/>
<text class="seq" x="573.77" y="499.6">QYDAVFMSGSGSTIVGIG+P+PPQFVYDD+EYSDVFLSDAYFLTR++NEWYQEP+SVSASS+++R+S+SEAVQGAFR</text>
</g>

<g id="boxes">
<polyline class="rb" points="2840,530 2149,530 2149,795 2840,795"/>
<polyline class="rb" points="562,958 966,958 966,1218 562,1218"/>
<polyline class="gb" points="2827,961 1397,961 1397,1222 2827,1222"/>
<polyline class="gb" points="571,1384 1000,1384 1000,1648 571,1648"/>
</g>

<text class="pl" x="56" y="1953">B</text>

<g id="clades">
<rect x="1600" y="1962" width="914" height="204.2" fill="#f4cccc"/>
<rect x="1600" y="2166.2" width="914" height="204.8" fill="#f9cb9c"/>
<rect x="1600" y="2371" width="914" height="1126.4" fill="#d9ead3"/>
</g>

<g id="connectors">
<path class="br" d="M56 2286.1H211M211 2095.8V2476.4M211 2095.8H1138M211 2476.4H365.5M1138 2051V2140.6M1138 2051H1292.5M1138 2140.6H1601.5M1292.5 2012.6V2089.4M1292.5 2012.6H1447M1292.5 2089.4H1601.5M1447 1987V2038.2M1447 1987H1601.5M1447 2038.2H1601.5M365.5 2300.6V2652.2M365.5 2300.6H1138M365.5 2652.2H520M1138 2230.2V2371M1138 2230.2H1292.5M1138 2371H1447M1292.5 2191.8V2268.6M1292.5 2191.8H1601.5M1292.5 2268.6H1447M1447 2243V2294.2M1447 2243H1601.5M1447 2294.2H1601.5M1447 2345.4V2396.6M1447 2345.4H1601.5M1447 2396.6H1601.5M520 2473.4V2831M520 2473.4H1447M520 2831H674.5M1447 2447.8V2499M1447 2447.8H1601.5M1447 2499H1601.5M674.5 2636.6V3025.4M674.5 2636.6H983.5M674.5 3025.4H829M983.5 2575.8V2697.4M983.5 2575.8H1447M983.5 2697.4H1138M1447 2550.2V2601.4M1447 2550.2H1601.5M1447 2601.4H1601.5M1138 2652.6V2742.2M1138 2652.6H1601.5M1138 2742.2H1292.5M1292.5 2703.8V2780.6M1292.5 2703.8H1601.5M1292.5 2780.6H1447M1447 2755V2806.2M1447 2755H1601.5M1447 2806.2H1601.5M829 2883V3167.8M829 2883H1447M829 3167.8H983.5M1447 2857.4V2908.6M1447 2857.4H1601.5M1447 2908.6H1601.5M983.5 3036.6V3299M983.5 3036.6H1292.5M983.5 3299H1138M1292.5 2985.4V3087.8M1292.5 2985.4H1447M1292.5 3087.8H1447M1447 2959.8V3011M1447 2959.8H1601.5M1447 3011H1601.5M1447 3062.2V3113.4M1447 3062.2H1601.5M1447 3113.4H1601.5M1138 3203V3395M1138 3203H1292.5M1138 3395H1292.5M1292.5 3164.6V3241.4M1292.5 3164.6H1601.5M1292.5 3241.4H1447M1447 3215.8V3267M1447 3215.8H1601.5M1447 3267H1601.5M1292.5 3343.8V3446.2M1292.5 3343.8H1447M1292.5 3446.2H1447M1447 3318.2V3369.4M1447 3318.2H1601.5M1447 3369.4H1601.5M1447 3420.6V3471.8M1447 3420.6H1601.5M1447 3471.8H1601.5"/>
</g>

<g id="bootstrap">
<text class="bs" x="674.5" y="2127">100</text>
<text class="bs" x="1215" y="2082">50</text>
<text class="bs" x="1370" y="2043.6">100</text>
<text class="bs" x="288" y="2507">100</text>
<text class="bs" x="752" y="2331.6">39</text>
<text class="bs" x="1215" y="2261">100</text>
<text class="bs" x="1370" y="2299.6">100</text>
<text class="bs" x="1292.5" y="2402">69</text>
<text class="bs" x="443" y="2683">36</text>
<text class="bs" x="983.5" y="2504">75</text>
<text class="bs" x="597" y="2862">68</text>
<text class="bs" x="829" y="2667.6">95</text>
<text class="bs" x="1215" y="2606.8">100</text>
<text class="bs" x="1061" y="2728">70</text>
<text class="bs" x="1215" y="2773">93</text>
<text class="bs" x="1370" y="2811.6">100</text>
<text class="bs" x="752" y="3056.4">71</text>
<text class="bs" x="1138" y="2914">100</text>
<text class="bs" x="906" y="3198.8">49</text>
<text class="bs" x="1138" y="3067.6">79</text>
<text class="bs" x="1370" y="3016.4">100</text>
<text class="bs" x="1370" y="3118.8">100</text>
<text class="bs" x="1061" y="3330">80</text>
<text class="bs" x="1215" y="3234">100</text>
<text class="bs" x="1370" y="3272.4">100</text>
<text class="bs" x="1215" y="3426">100</text>
<text class="bs" x="1370" y="3374.8">100</text>
<text class="bs" x="1370" y="3477.2">100</text>
</g>

<g id="leaves">
<g id="leaf1"><text class="lf" x="1609" y="1999">UIB01907.1 CMK Pinus massoniana</text></g>
<g id="leaf2"><text class="lf" x="1609" y="2050.2">AWY87645.1 CMK Pinus kesiya</text></g>
<g id="leaf3"><text class="lf" x="1609" y="2101.4">AAZ80384.1 type 1 CMK Ginkgo biloba</text></g>
<g id="leaf4"><text class="lf" x="1609" y="2152.6">XP 057833560.2 CMK Cryptomeria japonica</text></g>
<g id="leaf5"><text class="lf" x="1609" y="2203.8">ADG34843.1 CMK Vanda hybrid cultivar</text></g>
<g id="leaf6"><text class="lf" x="1609" y="2255">AKZ20827.1 CMK Dendrobium catenatum</text></g>
<g id="leaf7"><text class="lf" x="1609" y="2306.2">QPJ58131.1 CMK Dendrobium nobile</text></g>
<g id="leaf8"><text class="lf" x="1609" y="2357.4">XP 009380973.1 CMK Musa acuminata subsp. malaccensis</text></g>
<g id="leaf9"><text class="lf" x="1609" y="2408.6">AOR83339.1 CMK Artemisia annua</text></g>
<g id="leaf10"><text class="lf" x="1609" y="2459.8">APC65703.1 CMK Cinnamomum camphora</text></g>
<g id="leaf11"><text class="lf" x="1609" y="2511">XP 026412145.1 CMK Papaver somniferum</text></g>
<g id="leaf12"><text class="lf" x="1609" y="2562.2">ABO87658.1 CMK Nicotiana benthamiana</text></g>
<g id="leaf13"><text class="lf" x="1609" y="2613.4">XP 015062608.1 CMK Solanum pennellii</text></g>
<g id="leaf14"><text class="lf" x="1609" y="2664.6">XP 059665494.1 CMKCornus florida</text></g>
<g id="leaf15"><text class="lf" x="1609" y="2715.8">XP 052191043.1 CMK Diospyros lotus</text></g>
<g id="leaf16"><text class="lf" x="1609" y="2767">XP 057479756.1 CMK Actinidia eriantha</text></g>
<g id="leaf17"><text class="lf" x="1609" y="2818.2">PSR90095.1 CMK Actinidia chinensis var. chinensis</text></g>
<g id="leaf18"><text class="lf" x="1609" y="2869.4">XP 004291722.1 CMK Fragaria vesca subsp. vesca</text></g>
<g id="leaf19"><text class="lf" x="1609" y="2920.6">XP 062017516.1 CMK Rosa rugosa</text></g>
<g id="leaf20"><text class="lf" x="1609" y="2971.8">AOV62776.1 CMK Morus alba</text></g>
<g id="leaf21"><text class="lf" x="1609" y="3023">XP 060963426.1 CMK Cannabis sativa</text></g>
<g id="leaf22"><text class="lf" x="1609" y="3074.2">XP 021603405.1 CMK Manihot esculenta</text></g>
<g id="leaf23"><text class="lf" x="1609" y="3125.4">XP 021677479.2 CMK Hevea brasiliensis</text></g>
<g id="leaf24"><text class="lf" x="1609" y="3176.6">KAE9593939.1 CMK Lupinus albus</text></g>
<g id="leaf25"><text class="lf" x="1609" y="3227.8">WJX38059.1 CMK Trifolium repens</text></g>
<g id="leaf26"><text class="lf" x="1609" y="3279">XP 058782428.1 CMK Vicia villosa</text></g>
<g id="leaf27"><text class="lf" x="1609" y="3330.2">XP 023921642.1 CMK Quercus suber</text></g>
<g id="leaf28"><text class="lf" x="1609" y="3381.4">XP 050286141.1 CMK Quercus robur</text></g>
<g id="leaf29"><text class="lf" x="1609" y="3432.6">XP 062173269.1 CMK Alnus glutinosa</text></g>
<g id="leaf30"><text class="lf" x="1609" y="3483.8">XP 059431044.1 CMK Corylus avellana</text></g>
</g>

<g id="legend">
<rect x="2540" y="2141" width="94" height="46" fill="#f4cccc"/>
<text class="lgd" x="2647" y="2176" textLength="243" lengthAdjust="spacingAndGlyphs">Gymnosperms</text>
<rect x="2541" y="2241" width="93" height="46" fill="#f9cb9c"/>
<text class="lgd" x="2647" y="2273" textLength="241" lengthAdjust="spacingAndGlyphs">Monocotyledon</text>
<rect x="2543" y="2346" width="91" height="45" fill="#d9ead3"/>
<text class="lgd" x="2651" y="2376" textLength="181" lengthAdjust="spacingAndGlyphs">Dicotyledon</text>
</g>
</svg>
